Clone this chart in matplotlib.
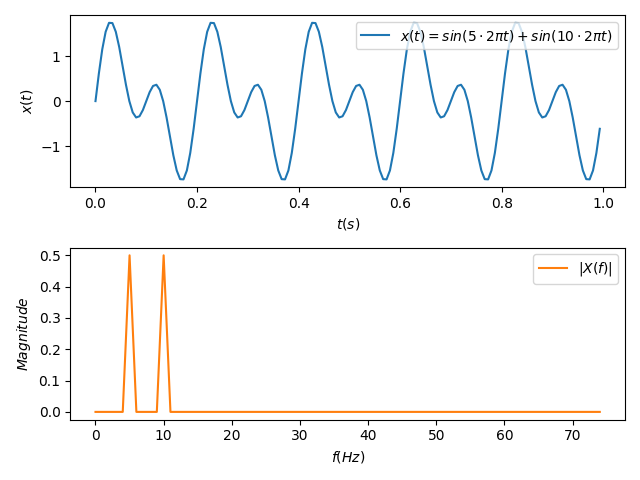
import numpy as np
import matplotlib
matplotlib.use("Agg")
import matplotlib.pyplot as plt

# one period of the sampled signal (30 samples), repeated over 1 s at 150 Hz
period_values = [0.0, 0.6146, 1.1498, 1.5389, 1.7376, 1.7321, 1.5389, 1.2024,
                 0.7866, 0.3633, 0.0, -0.2514, -0.3633, -0.3364, -0.1988,
                 0.0, 0.1988, 0.3364, 0.3633, 0.2514, 0.0, -0.3633, -0.7866,
                 -1.2024, -1.5389, -1.7321, -1.7376, -1.5389, -1.1498, -0.6146]
n_periods = 5
sample_rate = 150

signal = period_values * n_periods
times = np.arange(len(signal)) / sample_rate

freqs = list(range(75))
magnitude = [0.0] * 75
magnitude[5] = 0.5
magnitude[10] = 0.5

fig, (ax1, ax2) = plt.subplots(2, 1, figsize=(6.4, 4.8), dpi=100)

ax1.plot(times, signal, label=r"$x(t) = sin(5 \cdot 2\pi t) + sin(10 \cdot 2\pi t)$")
ax1.set_xlabel("$t(s)$")
ax1.set_ylabel("$x(t)$")
ax1.legend(loc="upper right")

ax2.plot(freqs, magnitude, color="C1", label="$|X(f)|$")
ax2.set_xlabel("$f(Hz)$")
ax2.set_ylabel("$Magnitude$")
ax2.legend(loc="upper right")

plt.tight_layout()
plt.savefig("out.png")
